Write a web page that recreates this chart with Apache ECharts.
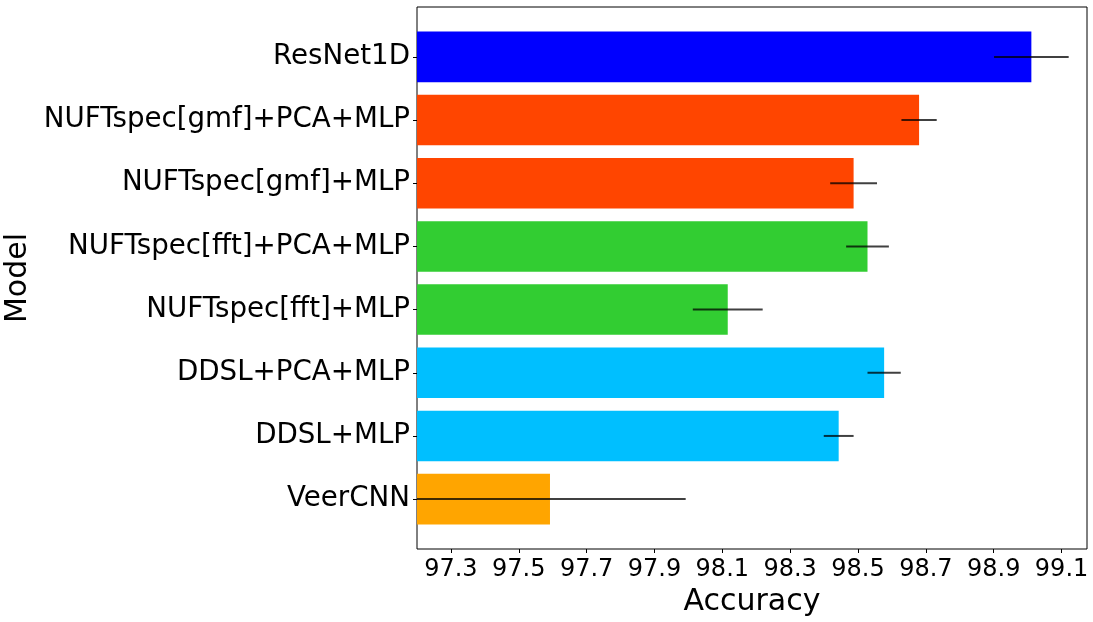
<!DOCTYPE html>
<html lang="en">

<head>
    <meta charset="UTF-8">
    <title>accuracy</title>
    <script src="https://cdn.jsdelivr.net/npm/echarts@6/dist/echarts.min.js"></script>
</head>

<body style="margin:0">
    <div id="main" style="width: 1093px;height: 622px;"></div>
    <script>
        // top to bottom
        var models = ['ResNet1D', 'NUFTspec[gmf]+PCA+MLP', 'NUFTspec[gmf]+MLP', 'NUFTspec[fft]+PCA+MLP',
            'NUFTspec[fft]+MLP', 'DDSL+PCA+MLP', 'DDSL+MLP', 'VeerCNN']
        var accuracy = [99.011, 98.68, 98.487, 98.528, 98.116, 98.577, 98.443, 97.592]
        var errors = [0.110, 0.052, 0.069, 0.063, 0.103, 0.049, 0.044, 0.40]
        var colors = ['#0000ff', '#ff4500', '#ff4500', '#32cd32', '#32cd32', '#00bfff', '#00bfff', '#ffa500']
        var xTicks = [97.3, 97.5, 97.7, 97.9, 98.1, 98.3, 98.5, 98.7, 98.9, 99.1]
        var xMin = 97.2, xMax = 99.175

        var font = 'DejaVu Sans'
        var myCharts = echarts.init(document.getElementById('main'))

        var option = {
            animation: false,
            backgroundColor: '#fff',
            grid: [
                // bars
                { left: 417, right: 6, top: 25.3, bottom: 91.3, outerBoundsMode: 'none' },
                // frame around the axes
                { left: 417, right: 6, top: 7, bottom: 73, outerBoundsMode: 'none', show: true, borderColor: '#000', borderWidth: 1 }
            ],
            xAxis: [
                {
                    gridIndex: 0,
                    type: 'value',
                    min: xMin,
                    max: xMax,
                    offset: 18.3,
                    axisLine: { show: false },
                    splitLine: { show: false },
                    axisTick: { show: true, length: 4, lineStyle: { color: '#000' }, customValues: xTicks },
                    axisLabel: {
                        customValues: xTicks,
                        formatter: function (v) { return v.toFixed(1) },
                        fontFamily: font, fontSize: 24, color: '#000', margin: 9
                    },
                    name: 'Accuracy',
                    nameLocation: 'middle',
                    nameGap: 35,
                    nameTextStyle: { fontFamily: font, fontSize: 30, color: '#000' }
                },
                { gridIndex: 1, type: 'value', min: 0, max: 1, show: false }
            ],
            yAxis: [
                {
                    gridIndex: 0,
                    type: 'category',
                    data: models,
                    inverse: true,
                    axisLine: { show: false },
                    axisTick: { show: true, alignWithLabel: true, length: 4, lineStyle: { color: '#000' } },
                    axisLabel: { fontFamily: font, fontSize: 27.7, color: '#000', margin: 7, padding: [6, 0, 0, 0] },
                    name: 'Model',
                    nameLocation: 'middle',
                    nameGap: 352,
                    nameTextStyle: { fontFamily: font, fontSize: 30, color: '#000' }
                },
                { gridIndex: 1, type: 'value', min: 0, max: 1, show: false }
            ],
            series: [
                {
                    // bars, drawn from the left edge of the axis
                    type: 'custom',
                    xAxisIndex: 0,
                    yAxisIndex: 0,
                    data: accuracy.map(function (v, i) { return [i, v] }),
                    renderItem: function (params, api) {
                        var i = api.value(0), v = api.value(1)
                        var p0 = api.coord([xMin, i])
                        var p1 = api.coord([v, i])
                        var h = api.size([0, 1])[1] * 0.8
                        return {
                            type: 'rect',
                            shape: { x: p0[0], y: p0[1] - h / 2, width: p1[0] - p0[0], height: h },
                            style: { fill: colors[i] }
                        }
                    },
                    encode: { x: 1, y: 0 },
                    z: 2
                },
                {
                    // error bars
                    type: 'custom',
                    xAxisIndex: 0,
                    yAxisIndex: 0,
                    data: accuracy.map(function (v, i) { return [i, v, errors[i]] }),
                    renderItem: function (params, api) {
                        var i = api.value(0), v = api.value(1), e = api.value(2)
                        var p1 = api.coord([Math.max(v - e, xMin), i])
                        var p2 = api.coord([Math.min(v + e, xMax), i])
                        return {
                            type: 'line',
                            shape: { x1: p1[0], y1: p1[1], x2: p2[0], y2: p2[1] },
                            style: { stroke: 'rgba(0,0,0,0.75)', lineWidth: 2 }
                        }
                    },
                    encode: { x: 1, y: 0 },
                    z: 5
                }
            ]
        }
        myCharts.setOption(option)
    </script>
</body>

</html>
